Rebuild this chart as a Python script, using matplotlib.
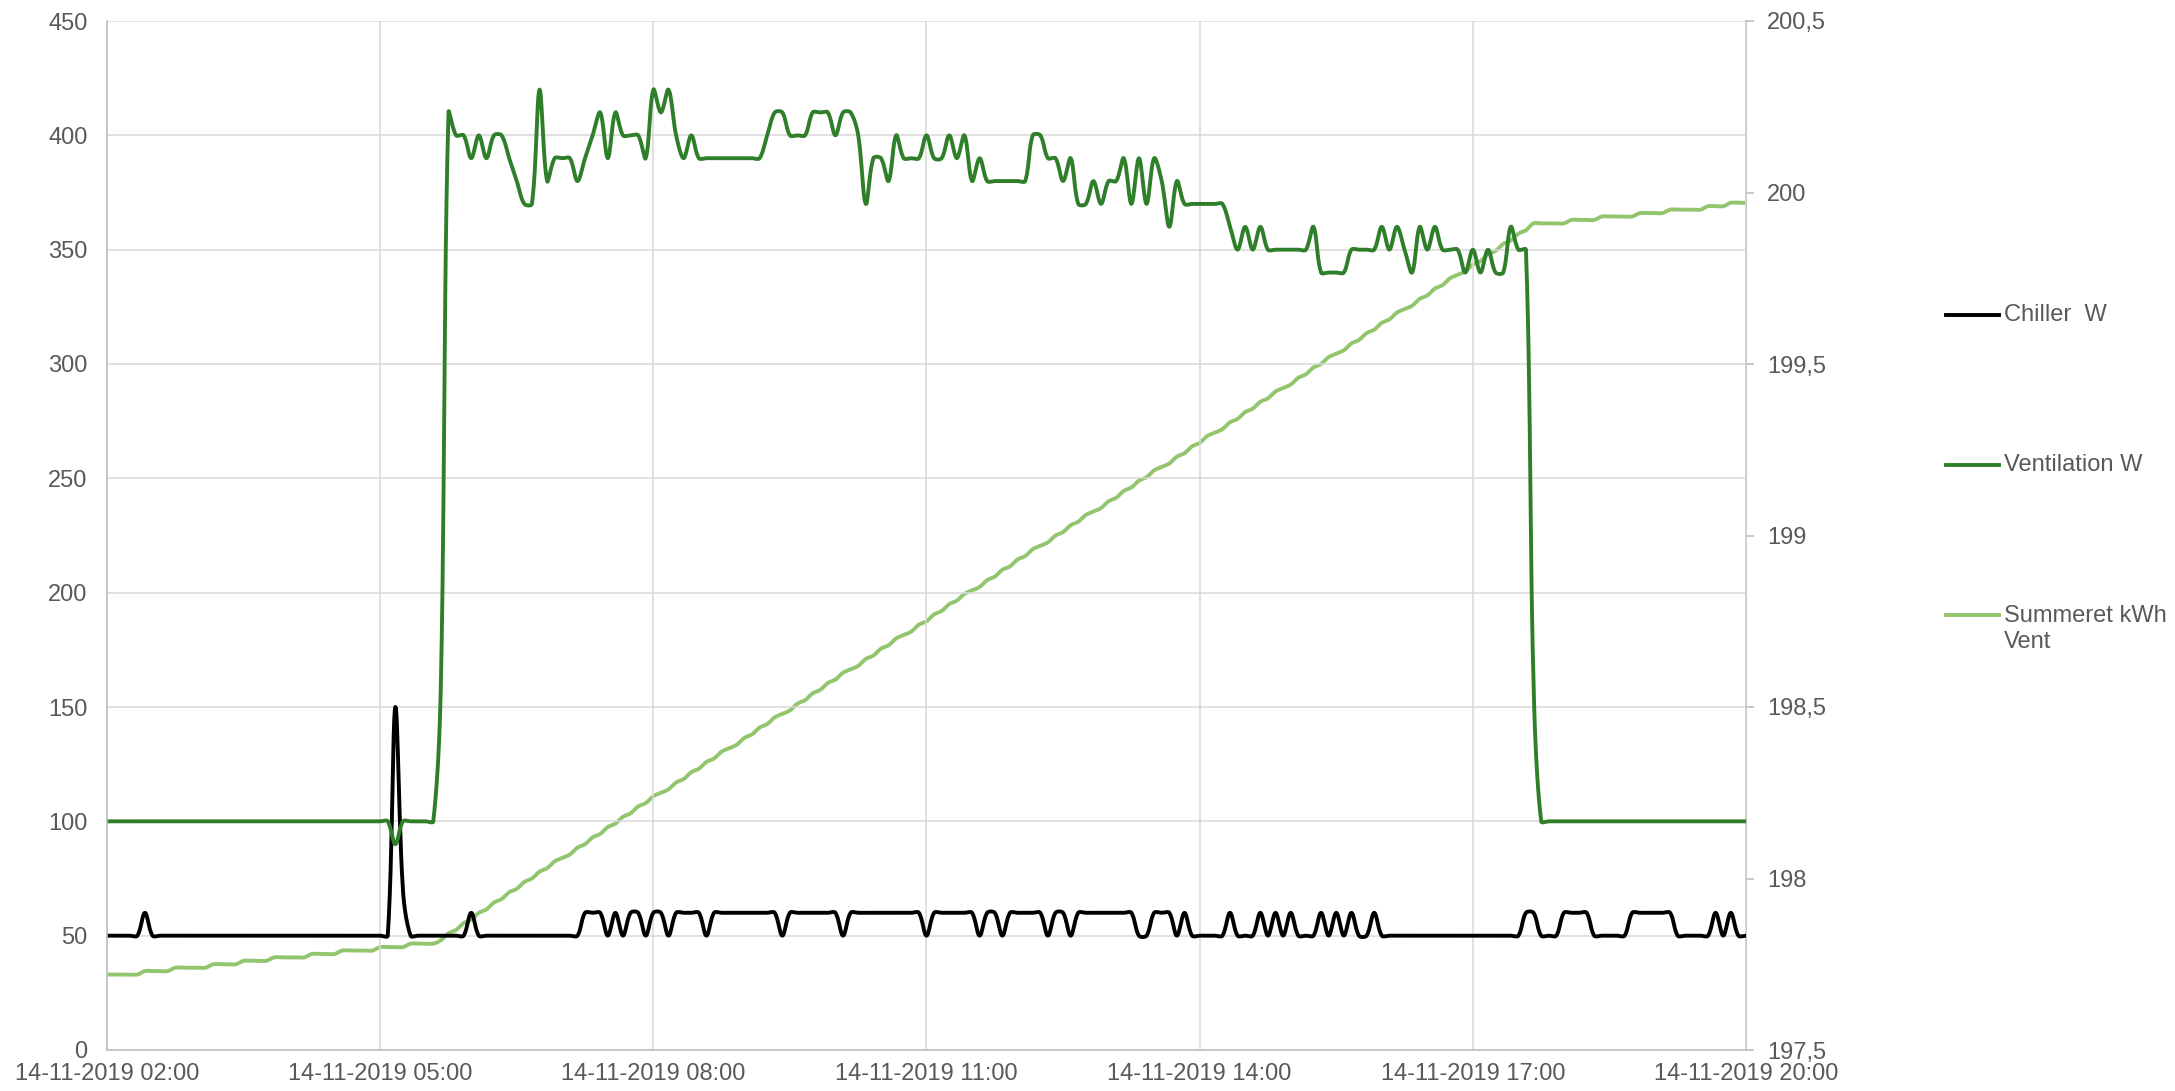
import numpy as np
import pandas as pd
import matplotlib
matplotlib.use('Agg')
import matplotlib.pyplot as plt
import matplotlib.dates as mdates
from matplotlib.lines import Line2D
from matplotlib.ticker import FuncFormatter, MultipleLocator

plt.rcParams['font.family'] = ['Liberation Sans', 'DejaVu Sans']

# 5-minute readings, 14-11-2019 02:00 .. 20:00 (one row per hour)
tider = pd.date_range('2019-11-14 02:00', '2019-11-14 20:00', freq='5min')

chiller_w = [
    50, 50, 50, 50, 50, 60, 50, 50, 50, 50, 50, 50,      # 02
    50, 50, 50, 50, 50, 50, 50, 50, 50, 50, 50, 50,      # 03
    50, 50, 50, 50, 50, 50, 50, 50, 50, 50, 50, 50,      # 04
    50, 50, 150, 70, 50, 50, 50, 50, 50, 50, 50, 50,     # 05
    60, 50, 50, 50, 50, 50, 50, 50, 50, 50, 50, 50,      # 06
    50, 50, 50, 60, 60, 60, 50, 60, 50, 60, 60, 50,      # 07
    60, 60, 50, 60, 60, 60, 60, 50, 60, 60, 60, 60,      # 08
    60, 60, 60, 60, 60, 50, 60, 60, 60, 60, 60, 60,      # 09
    60, 50, 60, 60, 60, 60, 60, 60, 60, 60, 60, 60,      # 10
    50, 60, 60, 60, 60, 60, 60, 50, 60, 60, 50, 60,      # 11
    60, 60, 60, 60, 50, 60, 60, 50, 60, 60, 60, 60,      # 12
    60, 60, 60, 60, 50, 50, 60, 60, 60, 50, 60, 50,      # 13
    50, 50, 50, 50, 60, 50, 50, 50, 60, 50, 60, 50,      # 14
    60, 50, 50, 50, 60, 50, 60, 50, 60, 50, 50, 60,      # 15
    50, 50, 50, 50, 50, 50, 50, 50, 50, 50, 50, 50,      # 16
    50, 50, 50, 50, 50, 50, 50, 60, 60, 50, 50, 50,      # 17
    60, 60, 60, 60, 50, 50, 50, 50, 50, 60, 60, 60,      # 18
    60, 60, 60, 50, 50, 50, 50, 50, 60, 50, 60, 50,      # 19
    50,                                                  # 20
]

ventilation_w = [
    100, 100, 100, 100, 100, 100, 100, 100, 100, 100, 100, 100,   # 02
    100, 100, 100, 100, 100, 100, 100, 100, 100, 100, 100, 100,   # 03
    100, 100, 100, 100, 100, 100, 100, 100, 100, 100, 100, 100,   # 04
    100, 100, 90, 100, 100, 100, 100, 100, 160, 410, 400, 400,    # 05
    390, 400, 390, 400, 400, 390, 380, 370, 370, 420, 380, 390,   # 06
    390, 390, 380, 390, 400, 410, 390, 410, 400, 400, 400, 390,   # 07
    420, 410, 420, 400, 390, 400, 390, 390, 390, 390, 390, 390,   # 08
    390, 390, 390, 400, 410, 410, 400, 400, 400, 410, 410, 410,   # 09
    400, 410, 410, 400, 370, 390, 390, 380, 400, 390, 390, 390,   # 10
    400, 390, 390, 400, 390, 400, 380, 390, 380, 380, 380, 380,   # 11
    380, 380, 400, 400, 390, 390, 380, 390, 370, 370, 380, 370,   # 12
    380, 380, 390, 370, 390, 370, 390, 380, 360, 380, 370, 370,   # 13
    370, 370, 370, 370, 360, 350, 360, 350, 360, 350, 350, 350,   # 14
    350, 350, 350, 360, 340, 340, 340, 340, 350, 350, 350, 350,   # 15
    360, 350, 360, 350, 340, 360, 350, 360, 350, 350, 350, 340,   # 16
    350, 340, 350, 340, 340, 360, 350, 350, 160, 100, 100, 100,   # 17
    100, 100, 100, 100, 100, 100, 100, 100, 100, 100, 100, 100,   # 18
    100, 100, 100, 100, 100, 100, 100, 100, 100, 100, 100, 100,   # 19
    100,                                                          # 20
]

summeret_kwh_vent = [
    197.72, 197.72, 197.72, 197.72, 197.72, 197.73, 197.73, 197.73, 197.73, 197.74, 197.74, 197.74,
    197.74, 197.74, 197.75, 197.75, 197.75, 197.75, 197.76, 197.76, 197.76, 197.76, 197.77, 197.77,
    197.77, 197.77, 197.77, 197.78, 197.78, 197.78, 197.78, 197.79, 197.79, 197.79, 197.79, 197.79,
    197.80, 197.80, 197.80, 197.80, 197.81, 197.81, 197.81, 197.81, 197.82, 197.84, 197.85, 197.87,
    197.88, 197.90, 197.91, 197.93, 197.94, 197.96, 197.97, 197.99, 198.00, 198.02, 198.03, 198.05,
    198.06, 198.07, 198.09, 198.10, 198.12, 198.13, 198.15, 198.16, 198.18, 198.19, 198.21, 198.22,
    198.24, 198.25, 198.26, 198.28, 198.29, 198.31, 198.32, 198.34, 198.35, 198.37, 198.38, 198.39,
    198.41, 198.42, 198.44, 198.45, 198.47, 198.48, 198.49, 198.51, 198.52, 198.54, 198.55, 198.57,
    198.58, 198.60, 198.61, 198.62, 198.64, 198.65, 198.67, 198.68, 198.70, 198.71, 198.72, 198.74,
    198.75, 198.77, 198.78, 198.80, 198.81, 198.83, 198.84, 198.85, 198.87, 198.88, 198.90, 198.91,
    198.93, 198.94, 198.96, 198.97, 198.98, 199.00, 199.01, 199.03, 199.04, 199.06, 199.07, 199.08,
    199.10, 199.11, 199.13, 199.14, 199.16, 199.17, 199.19, 199.20, 199.21, 199.23, 199.24, 199.26,
    199.27, 199.29, 199.30, 199.31, 199.33, 199.34, 199.36, 199.37, 199.39, 199.40, 199.42, 199.43,
    199.44, 199.46, 199.47, 199.49, 199.50, 199.52, 199.53, 199.54, 199.56, 199.57, 199.59, 199.60,
    199.62, 199.63, 199.65, 199.66, 199.67, 199.69, 199.70, 199.72, 199.73, 199.75, 199.76, 199.77,
    199.79, 199.80, 199.82, 199.83, 199.85, 199.86, 199.88, 199.89, 199.91, 199.91, 199.91, 199.91,
    199.91, 199.92, 199.92, 199.92, 199.92, 199.93, 199.93, 199.93, 199.93, 199.93, 199.94, 199.94,
    199.94, 199.94, 199.95, 199.95, 199.95, 199.95, 199.95, 199.96, 199.96, 199.96, 199.97, 199.97,
    199.97,
]

serie_navne = ['Chiller  W', 'Ventilation W', 'Summeret kWh\nVent']
farver = ['#000000', '#2f7f2a', '#92c56e']
tekst_farve = '#595959'
grid_farve = '#d9d9d9'

# plot box in pixels (used for the smoothing, which works in screen space)
PX_PR_DAG = 1639.5 / 0.75
PX_PR_W = 1029 / 450
PX_PR_KWH = 1029 / 3


def glat(xs, ys, sy, n=12):
    # excel-like smoothed line: bezier through the points, control
    # points weighted by segment length so big jumps do not overshoot
    x = np.asarray(xs, float) * PX_PR_DAG
    y = np.asarray(ys, float) * sy
    xp = np.concatenate([[x[0]], x, [x[-1]]])
    yp = np.concatenate([[y[0]], y, [y[-1]]])
    L = np.hypot(np.diff(xp), np.diff(yp))
    L01, L12, L23 = L[:-2], L[1:-1], L[2:]
    f1 = np.where(L01 + L12 > 0, L12 / np.maximum(L01 + L12, 1e-9), 0.5) / 3
    f2 = np.where(L12 + L23 > 0, L12 / np.maximum(L12 + L23, 1e-9), 0.5) / 3
    p0x, p1x, p2x, p3x = xp[:-3], xp[1:-2], xp[2:-1], xp[3:]
    p0y, p1y, p2y, p3y = yp[:-3], yp[1:-2], yp[2:-1], yp[3:]
    c1x, c2x = p1x + (p2x - p0x) * f1, p2x - (p3x - p1x) * f2
    c1y, c2y = p1y + (p2y - p0y) * f1, p2y - (p3y - p1y) * f2
    t = np.linspace(0, 1, n, endpoint=False)[:, None]
    bx = (1 - t) ** 3 * p1x + 3 * (1 - t) ** 2 * t * c1x + 3 * (1 - t) * t ** 2 * c2x + t ** 3 * p2x
    by = (1 - t) ** 3 * p1y + 3 * (1 - t) ** 2 * t * c1y + 3 * (1 - t) * t ** 2 * c2y + t ** 3 * p2y
    bx = np.append(bx.T.ravel(), x[-1]) / PX_PR_DAG
    by = np.append(by.T.ravel(), y[-1]) / sy
    return bx, by


xnum = mdates.date2num(tider.to_pydatetime())

fig = plt.figure(figsize=(21.75, 10.91), dpi=100)
ax = fig.add_axes([107 / 2175, 1 - 1050 / 1091, (1746 - 107) / 2175, (1050 - 21) / 1091])
ax2 = ax.twinx()

gx, gy = glat(xnum, summeret_kwh_vent, PX_PR_KWH)
ax2.plot(gx, gy, color=farver[2], linewidth=2.8, solid_capstyle='round')

gx, gy = glat(xnum, chiller_w, PX_PR_W)
ax.plot(gx, gy, color=farver[0], linewidth=2.8, solid_capstyle='round')
gx, gy = glat(xnum, ventilation_w, PX_PR_W)
ax.plot(gx, gy, color=farver[1], linewidth=2.8, solid_capstyle='round')

ax.set_zorder(ax2.get_zorder() + 1)
ax.patch.set_visible(False)

ax.set_xlim(xnum[0], xnum[-1])
ax.set_ylim(0, 450)
ax.yaxis.set_major_locator(MultipleLocator(50))
ax2.set_ylim(197.5, 200.5)
ax2.yaxis.set_major_locator(MultipleLocator(0.5))
ax2.yaxis.set_major_formatter(FuncFormatter(lambda v, p: f'{v:g}'.replace('.', ',')))

ax.xaxis.set_major_locator(mdates.HourLocator(byhour=range(2, 21, 3)))
ax.xaxis.set_major_formatter(mdates.DateFormatter('%d-%m-%Y %H:%M'))

ax.grid(True, color=grid_farve, linewidth=1.1)
ax.set_axisbelow(True)

for s in ['top', 'right']:
    ax.spines[s].set_visible(False)
for s in ['top', 'left', 'bottom']:
    ax2.spines[s].set_visible(False)
ax.spines['left'].set_color('#bfbfbf')
ax.spines['bottom'].set_color('#bfbfbf')
ax2.spines['right'].set_color('#bfbfbf')
for s in ['left', 'bottom']:
    ax.spines[s].set_linewidth(1.2)
ax2.spines['right'].set_linewidth(1.2)

ax.tick_params(axis='y', length=0, pad=14, labelsize=17, labelcolor=tekst_farve)
ax.tick_params(axis='x', length=0, pad=9, labelsize=17, labelcolor=tekst_farve)
ax2.tick_params(axis='y', length=6, width=1.2, color='#bfbfbf', pad=9,
                labelsize=17, labelcolor=tekst_farve)

# legend to the right of the plot
leg_y = [1 - 315 / 1091, 1 - 465 / 1091, 1 - 629 / 1091]
linje_y = [1 - 315 / 1091, 1 - 465 / 1091, 1 - 615 / 1091]
for navn, farve, ty, ly in zip(serie_navne, farver, leg_y, linje_y):
    fig.add_artist(Line2D([1946 / 2175, 1999 / 2175], [ly, ly], color=farve, linewidth=2.8))
    fig.text(2004 / 2175, ty, navn, fontsize=17, color=tekst_farve, va='center', ha='left',
             linespacing=1.2)

fig.savefig('out.png', dpi=100)
plt.close()
